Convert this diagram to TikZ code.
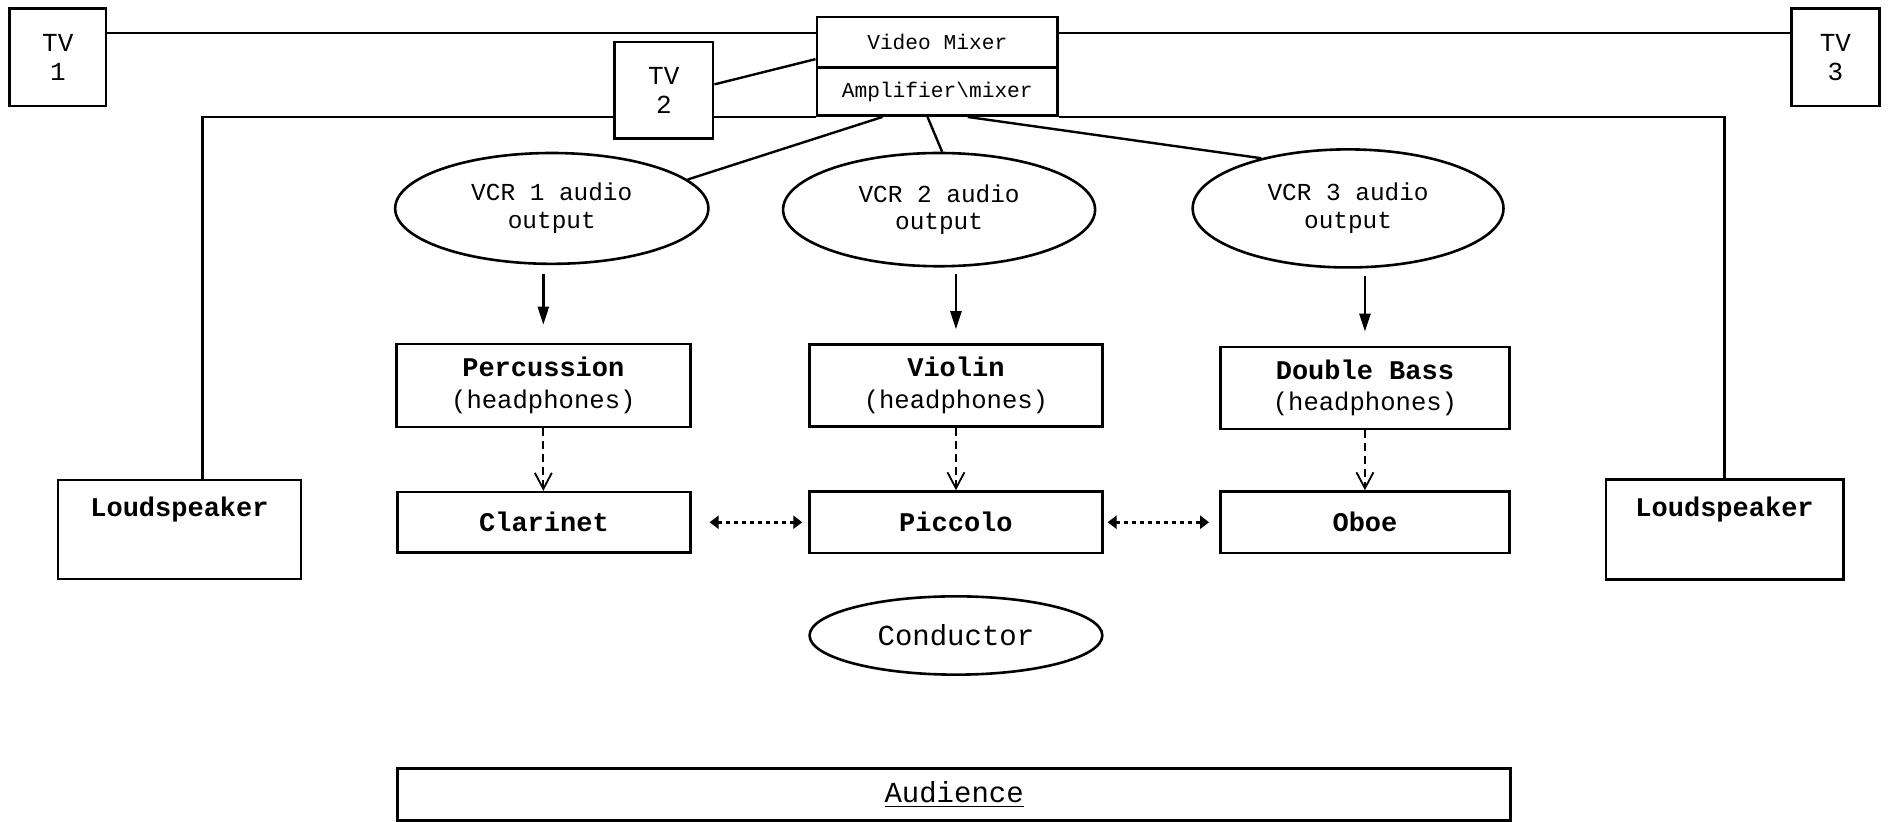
\documentclass[tikz,border=0pt]{standalone}
\usepackage{fontspec}
\setmainfont{Liberation Mono}
\usetikzlibrary{arrows.meta,shapes.geometric,calc}
\newcommand\fTV{\fontsize{13}{14.5}\selectfont}
\newcommand\fVM{\fontsize{10.6}{12}\selectfont}
\newcommand\fVCR{\fontsize{12.2}{13.9}\selectfont}
\newcommand\fIns{\fontsize{12.8}{15.7}\selectfont}
\newcommand\fBold{\fontsize{13.5}{15.7}\selectfont\bfseries}
\newcommand\fBig{\fontsize{14.5}{16}\selectfont}
\begin{document}
\begin{tikzpicture}[x=0.60235pt,y=-0.60235pt,
  every node/.style={inner sep=0pt, align=center},
  bx/.style={draw, line width=1.3pt},
  el/.style={draw, ellipse, line width=1.3pt},
  sz/.style 2 args={minimum width=#1*0.60235pt, minimum height=#2*0.60235pt},
  wire/.style={line width=1.2pt},
  solidarrow/.style={line width=1.2pt, -{Triangle[length=9pt,width=5.5pt]}},
  dasharrow/.style={line width=1.1pt, dash pattern=on 4pt off 2.5pt, -{Straight Barb[length=8pt,width=8.5pt,line width=0.9pt]}},
  dotarrow/.style={line width=1.3pt, dash pattern=on 2pt off 2pt, {Triangle[length=4.5pt,width=6.5pt]}-{Triangle[length=4.5pt,width=6.5pt]}},
]
\useasboundingbox (0,0) rectangle (1568,682);
\coordinate (busY) at (0,27.5);
% top row
\node[bx, sz={80}{81}, font=\fTV] (tv1) at (48,47.5) {TV\\1};
\node[bx, sz={73}{81}, font=\fTV] (tv3) at (1523.5,47.5) {TV\\3};
\node[bx, sz={82}{80}, font=\fTV] (tv2) at (551,75) {TV\\2};
\node[bx, sz={200}{42}, font=\fVM] (vm) at (778,35) {Video Mixer};
\node[bx, sz={200}{40}, font=\fVM] (amp) at (778,76) {Amplifier\textbackslash mixer};
% loudspeakers
\node[bx, sz={202}{82}] (lsL) at (149,439.5) {};
\node[font=\fBold, anchor=north] (lsLt) at ([yshift=-9pt]lsL.north) {Loudspeaker};
\node[bx, sz={197}{83}] (lsR) at (1431.5,439.5) {};
\node[font=\fBold, anchor=north] (lsRt) at ([yshift=-9pt]lsR.north) {Loudspeaker};
% VCRs
\node[el, sz={260}{92}, font=\fVCR] (vcr1) at (458,173) {VCR 1 audio\\output};
\node[el, sz={259}{94}, font=\fVCR] (vcr2) at (779.5,174) {VCR 2 audio\\output};
\node[el, sz={258}{98}, font=\fVCR] (vcr3) at (1119,173) {VCR 3 audio\\output};
% headphone players
\node[bx, sz={244}{69}, font=\fIns] (perc) at (451,320) {{\fBold Percussion}\\(headphones)};
\node[bx, sz={243}{68}, font=\fIns] (viol) at (793.5,320) {{\fBold Violin}\\(headphones)};
\node[bx, sz={240}{68}, font=\fIns] (dbass) at (1133,322) {{\fBold Double Bass}\\(headphones)};
% second row
\node[bx, sz={243}{50}, font=\fBold] (clar) at (451.5,433.5) {Clarinet};
\node[bx, sz={243}{51}, font=\fBold] (picc) at (793.5,433.5) {Piccolo};
\node[bx, sz={240}{51}, font=\fBold] (oboe) at (1133,433.5) {Oboe};
% conductor and audience
\node[el, sz={243}{65}, font=\fBig] (cond) at (793.5,527.5) {Conductor};
\node[bx, sz={924}{43}, font=\fBig] (aud) at (792,659.5) {\underline{Audience}};
% video wires
\draw[wire] (tv1.east |- busY) -- (vm.west |- busY);
\draw[wire] (vm.east |- busY) -- (tv3.west |- busY);
\draw[wire] ([yshift=3pt]tv2.east) -- ([yshift=4.8pt]vm.south west);
% speaker wires
\draw[wire] ([xshift=11.4pt]lsL.north) |- (tv2.west |- amp.south);
\draw[wire] (tv2.east |- amp.south) -- (amp.south west);
\draw[wire] (amp.south east) -| (lsR.north);
% amp to VCRs
\draw[wire] ($(amp.south west)!0.275!(amp.south east)$) -- (vcr1.12);
\draw[wire] ($(amp.south west)!0.46!(amp.south east)$) -- ([xshift=1.5pt]vcr2.north);
\draw[wire] ($(amp.south west)!0.625!(amp.south east)$) -- (vcr3.150);
% VCR to headphones
\draw[solidarrow, shorten <=4.2pt, shorten >=9pt] (vcr1.south -| perc.north) -- (perc.north);
\draw[solidarrow, shorten <=3pt, shorten >=7pt] (vcr2.south -| viol.north) -- (viol.north);
\draw[solidarrow, shorten <=3.6pt, shorten >=7pt] (vcr3.south -| dbass.north) -- (dbass.north);
% dashed
\draw[dasharrow] (perc.south) -- (perc.south |- clar.north);
\draw[dasharrow] (viol.south) -- (viol.south |- picc.north);
\draw[dasharrow] (dbass.south) -- (dbass.south |- oboe.north);
% dotted double
\draw[dotarrow, shorten <=9pt, shorten >=3pt] (clar.east) -- (picc.west);
\draw[dotarrow, shorten <=2pt, shorten >=5pt] (picc.east) -- (oboe.west);
\end{tikzpicture}
\end{document}
